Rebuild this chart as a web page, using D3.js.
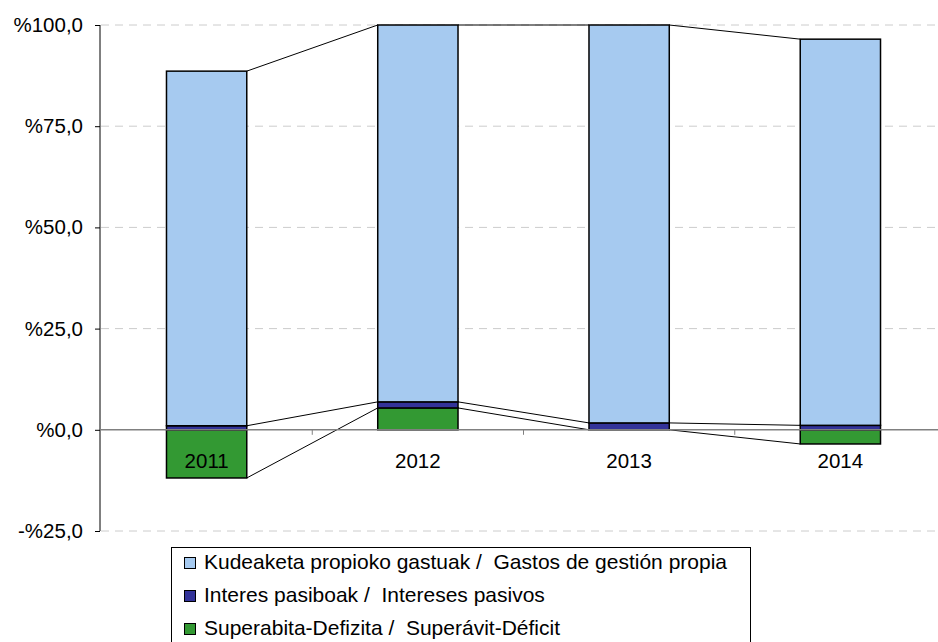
<!DOCTYPE html>
<html>
<head>
<meta charset="utf-8">
<script src="https://cdn.jsdelivr.net/npm/d3@7"></script>
<style>
  html, body { margin: 0; padding: 0; background: #fff; }
  svg { display: block; font-family: "Liberation Sans", Arial, sans-serif; }
</style>
</head>
<body>
<svg id="chart" width="938" height="642"></svg>
<script>
const years = ["2011", "2012", "2013", "2014"];
const kudeaketa = [87.6, 93.1, 98.3, 95.4];
const interes = [1.0, 1.5, 1.7, 1.1];
const superavit = [-11.9, 5.4, 0.0, -3.5];
const yTicks = [-25, 0, 25, 50, 75, 100];
const yTickLabels = ["-%25,0", "%0,0", "%25,0", "%50,0", "%75,0", "%100,0"];
const seriesNames = [
  "Kudeaketa propioko gastuak /  Gastos de gestión propia",
  "Interes pasiboak /  Intereses pasivos",
  "Superabita-Defizita /  Superávit-Déficit"
];
const seriesColors = ["#a6caf0", "#333399", "#339933"];

(function () {
const rows = years.map((yr, i) => ({year: yr, kud: kudeaketa[i], int: interes[i], sup: superavit[i]}));
const keys = ["sup", "int", "kud"];
const colorOf = {kud: seriesColors[0], int: seriesColors[1], sup: seriesColors[2]};

const svg = d3.select("#chart");
const pLeft = 101, pRight = 946, pTop = 25, pBottom = 531;

const x = d3.scaleBand().domain(years).range([pLeft, pRight]).padding(0);
const barW = x.bandwidth() * 0.38;
const y = d3.scaleLinear().domain([-25, 100]).range([pBottom, pTop]);

// gridlines
svg.append("g").selectAll("line")
  .data(yTicks.filter(t => t !== 0))
  .join("line")
  .attr("x1", pLeft).attr("x2", 938)
  .attr("y1", d => y(d)).attr("y2", d => y(d))
  .attr("stroke", "#cccccc").attr("stroke-width", 1)
  .attr("stroke-dasharray", "8,6");

const stack = d3.stack().keys(keys).offset(d3.stackOffsetDiverging);
const stacked = stack(rows);

// bars
const gBars = svg.append("g");
stacked.forEach(s => {
  gBars.selectAll(null).data(s).join("rect")
    .attr("x", d => x(d.data.year) + (x.bandwidth() - barW) / 2)
    .attr("width", barW)
    .attr("y", d => y(Math.max(d[0], d[1])))
    .attr("height", d => Math.abs(y(d[0]) - y(d[1])))
    .attr("fill", colorOf[s.key])
    .attr("stroke", "#000").attr("stroke-width", 1.5);
});

// series lines
const gLines = svg.append("g");
stacked.forEach(s => {
  const ends = s.map(d => {
    const v = d.data[s.key];
    return v >= 0 ? d[1] : d[0];
  });
  for (let i = 0; i < years.length - 1; i++) {
    gLines.append("line")
      .attr("x1", x(years[i]) + (x.bandwidth() + barW) / 2)
      .attr("x2", x(years[i + 1]) + (x.bandwidth() - barW) / 2)
      .attr("y1", y(ends[i])).attr("y2", y(ends[i + 1]))
      .attr("stroke", "#000").attr("stroke-width", 1);
  }
});

// zero (category) axis
svg.append("line")
  .attr("x1", pLeft).attr("x2", 938)
  .attr("y1", y(0)).attr("y2", y(0))
  .attr("stroke", "#808080").attr("stroke-width", 1.5);
svg.append("g").selectAll("line")
  .data(years.slice(1))
  .join("line")
  .attr("x1", d => x(d)).attr("x2", d => x(d))
  .attr("y1", y(0)).attr("y2", y(0) + 5)
  .attr("stroke", "#808080").attr("stroke-width", 1);

// category labels
svg.append("g").selectAll("text")
  .data(years)
  .join("text")
  .attr("x", d => x(d) + x.bandwidth() / 2)
  .attr("y", y(0) + 38)
  .attr("text-anchor", "middle")
  .attr("font-size", "20.5px")
  .attr("fill", "#000")
  .text(d => d);

// y axis
const yAxis = d3.axisLeft(y).tickValues(yTicks).tickSize(5).tickPadding(12)
  .tickFormat(d => yTickLabels[yTicks.indexOf(d)]);
const gy = svg.append("g").attr("transform", `translate(${pLeft - 1},0)`).call(yAxis);
gy.select(".domain").attr("d", `M0,${pTop}V${pBottom}`).attr("stroke", "#000");
gy.selectAll(".tick line").attr("stroke", "#000");
gy.selectAll(".tick text").attr("font-size", "20.5px").attr("fill", "#000")
  .attr("font-family", "'Liberation Sans', Arial, sans-serif");

// legend
const lg = svg.append("g");
lg.append("rect").attr("x", 171.5).attr("y", 547.5).attr("width", 579).attr("height", 120)
  .attr("fill", "#fff").attr("stroke", "#000").attr("stroke-width", 1);
seriesNames.forEach((name, i) => {
  const ry = 557 + i * 33;
  lg.append("rect").attr("x", 184.5).attr("y", ry + 0.5).attr("width", 11).attr("height", 11)
    .attr("fill", seriesColors[i]).attr("stroke", "#000").attr("stroke-width", 1);
  lg.append("text").attr("x", 204).attr("y", ry + 11.5)
    .attr("font-size", "21px").attr("fill", "#000")
    .style("white-space", "pre").attr("xml:space", "preserve")
    .text(name);
});
})();
</script>
</body>
</html>
